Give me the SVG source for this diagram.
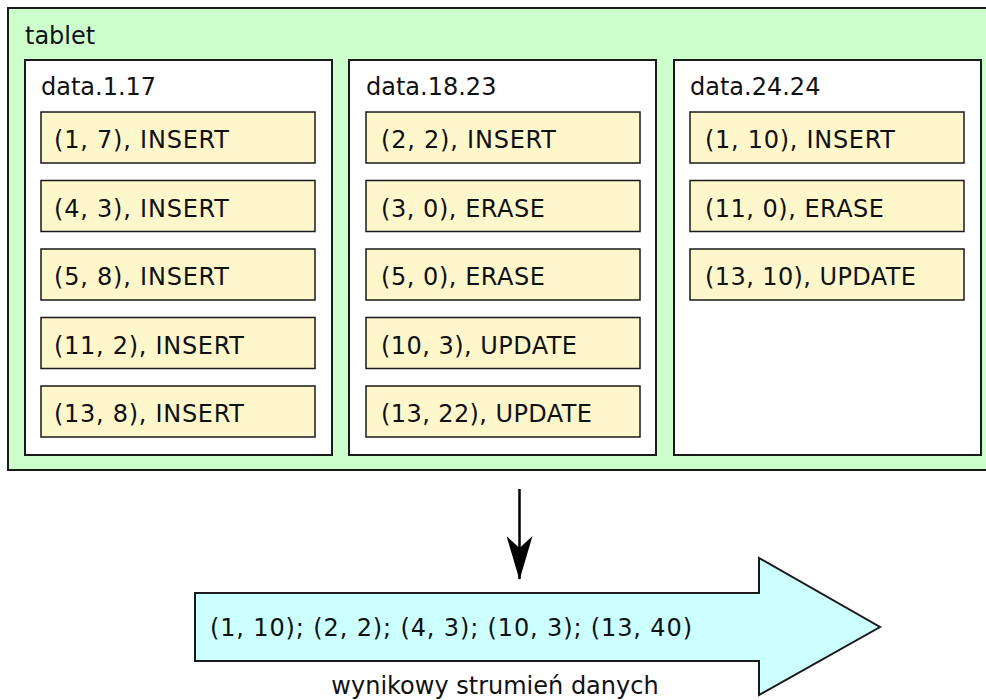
<svg xmlns="http://www.w3.org/2000/svg" width="986" height="700" viewBox="0 0 986 700">
<style>
text{font-family:"DejaVu Sans","Verdana",sans-serif;font-size:24px;fill:#111}
.tab{fill:#ccffcc;stroke:#1a1a1a;stroke-width:2}
.box{fill:#ffffff;stroke:#1a1a1a;stroke-width:2}
.item{fill:#fff7cc;stroke:#1a1a1a;stroke-width:1.5}
.stream{fill:#ccffff;stroke:#1a1a1a;stroke-width:2}
.conn{stroke:#000;stroke-width:2.5;fill:none}
</style>
<defs>
<marker id="ah" markerUnits="userSpaceOnUse" viewBox="0 0 44 26" refX="43" refY="13" markerWidth="44" markerHeight="26" orient="auto">
<path d="M0,0 L44,13 L0,26 L12,13 Z" fill="#000"/>
</marker>
</defs>
<g id="tablet">
<rect class="tab" x="8" y="8" width="990" height="462"/>
<text x="25" y="44">tablet</text>
</g>
<g id="data-1-17">
<rect class="box" x="25" y="60" width="307" height="395"/>
<text x="41" y="95">data.1.17</text>
<rect class="item" x="41" y="112" width="274" height="51"/>
<text x="54" y="148" textLength="175" lengthAdjust="spacing">(1, 7), INSERT</text>
<rect class="item" x="41" y="180.5" width="274" height="51"/>
<text x="54" y="216.5" textLength="175" lengthAdjust="spacing">(4, 3), INSERT</text>
<rect class="item" x="41" y="249" width="274" height="51"/>
<text x="54" y="285" textLength="175" lengthAdjust="spacing">(5, 8), INSERT</text>
<rect class="item" x="41" y="317.5" width="274" height="51"/>
<text x="54" y="353.5" textLength="190" lengthAdjust="spacing">(11, 2), INSERT</text>
<rect class="item" x="41" y="386" width="274" height="51"/>
<text x="54" y="422" textLength="190" lengthAdjust="spacing">(13, 8), INSERT</text>
</g>
<g id="data-18-23">
<rect class="box" x="349" y="60" width="307" height="395"/>
<text x="366" y="95">data.18.23</text>
<rect class="item" x="366" y="112" width="274" height="51"/>
<text x="381" y="148" textLength="175" lengthAdjust="spacing">(2, 2), INSERT</text>
<rect class="item" x="366" y="180.5" width="274" height="51"/>
<text x="381" y="216.5" textLength="164" lengthAdjust="spacing">(3, 0), ERASE</text>
<rect class="item" x="366" y="249" width="274" height="51"/>
<text x="381" y="285" textLength="164" lengthAdjust="spacing">(5, 0), ERASE</text>
<rect class="item" x="366" y="317.5" width="274" height="51"/>
<text x="381" y="353.5" textLength="196" lengthAdjust="spacing">(10, 3), UPDATE</text>
<rect class="item" x="366" y="386" width="274" height="51"/>
<text x="381" y="422" textLength="211" lengthAdjust="spacing">(13, 22), UPDATE</text>
</g>
<g id="data-24-24">
<rect class="box" x="674" y="60" width="307" height="395"/>
<text x="690" y="95">data.24.24</text>
<rect class="item" x="690" y="112" width="274" height="51"/>
<text x="705" y="148" textLength="190" lengthAdjust="spacing">(1, 10), INSERT</text>
<rect class="item" x="690" y="180.5" width="274" height="51"/>
<text x="705" y="216.5" textLength="179" lengthAdjust="spacing">(11, 0), ERASE</text>
<rect class="item" x="690" y="249" width="274" height="51"/>
<text x="705" y="285" textLength="211" lengthAdjust="spacing">(13, 10), UPDATE</text>
</g>
<g id="connectors">
<line class="conn" x1="519.5" y1="489" x2="519.5" y2="579" marker-end="url(#ah)"/>
</g>
<g id="stream">
<polygon class="stream" points="195,593 759,593 759,558 880,627 759,695 759,661 195,661"/>
<text x="210" y="636" textLength="482" lengthAdjust="spacing">(1, 10); (2, 2); (4, 3); (10, 3); (13, 40)</text>
<text x="495" y="694" text-anchor="middle">wynikowy strumień danych</text>
</g>
</svg>
